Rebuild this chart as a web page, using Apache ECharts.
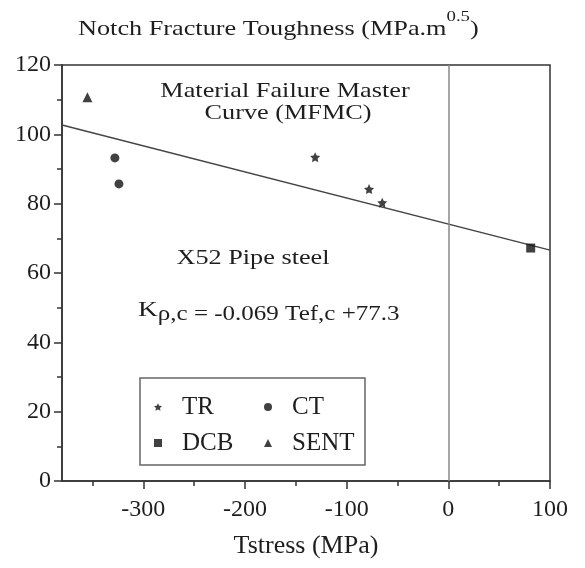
<!DOCTYPE html>
<html>
<head>
<meta charset="utf-8">
<script src="https://cdn.jsdelivr.net/npm/echarts@6/dist/echarts.min.js"></script>
<style>
  html, body { margin: 0; padding: 0; background: #fff; }
  #chart { width: 585px; height: 568px; }
</style>
</head>
<body>
<div id="chart"></div>
<script>
// Notch fracture toughness vs T-stress, X52 pipe steel
const xMin = -380, xMax = 100;
const yMin = 0, yMax = 120;
const xMajorTicks = [-300, -200, -100, 0, 100];
const xMinorTicks = [-350, -250, -150, -50, 50];

// specimen types: [Tstress (MPa), K (MPa.m^0.5)]
const trPoints   = [[-131, 93.4], [-78, 84.2], [-65, 80.3]];
const ctPoints   = [[-328, 93.2], [-324, 85.7]];
const dcbPoints  = [[81, 67.2]];
const sentPoints = [[-355, 110.7]];

// master curve endpoints across the axis range
const mfmcLine = [[-380, 102.7], [100, 66.6]];

const seriesNames = ['TR', 'CT', 'DCB', 'SENT'];

const FONT = '"Liberation Serif", "Times New Roman", serif';
const INK = '#1e1e1e';
const STAR = 'path://M0,-10 L2.94,-4.05 L9.51,-3.09 L4.76,1.55 L5.88,8.09 L0,5 L-5.88,8.09 L-4.76,1.55 L-9.51,-3.09 L-2.94,-4.05 Z';
const WIDE = 1.25; // horizontal stretch of the annotation lettering

const chart = echarts.init(document.getElementById('chart'), null, { renderer: 'canvas' });

const option = {
  animation: false,
  backgroundColor: '#fff',
  textStyle: { fontFamily: FONT },
  grid: {
    left: 62, right: 35, top: 65, bottom: 87,
    show: true, borderColor: '#333', borderWidth: 1.5, backgroundColor: 'transparent'
  },
  xAxis: [
    {
      type: 'value', min: xMin, max: xMax, position: 'bottom',
      name: 'Tstress (MPa)', nameLocation: 'middle', nameGap: 52,
      nameTextStyle: { fontFamily: FONT, fontSize: 26, color: INK },
      axisLine: { show: true, onZero: false, lineStyle: { color: '#333', width: 1.5 } },
      axisTick: { show: true, inside: false, length: 8, customValues: xMajorTicks, lineStyle: { color: '#333', width: 1.5 } },
      axisLabel: { margin: 17, customValues: xMajorTicks, fontFamily: FONT, fontSize: 24, color: INK },
      splitLine: { show: false }
    },
    {
      // half-step ticks along the bottom edge
      type: 'value', min: xMin, max: xMax, position: 'bottom',
      axisLine: { show: false, onZero: false },
      axisTick: { show: true, inside: false, length: 5, customValues: xMinorTicks, lineStyle: { color: '#333', width: 1.5 } },
      axisLabel: { show: false },
      splitLine: { show: false }
    }
  ],
  yAxis: {
    type: 'value', min: yMin, max: yMax, interval: 20,
    axisLine: { show: true, onZero: false, lineStyle: { color: '#333', width: 1.5 } },
    axisTick: { show: true, inside: false, length: 8, lineStyle: { color: '#333', width: 1.5 } },
    minorTick: { show: true, splitNumber: 2, length: 5, lineStyle: { color: '#333', width: 1.5 } },
    axisLabel: { margin: 11, fontFamily: FONT, fontSize: 24, color: INK },
    splitLine: { show: false }
  },
  legend: {
    data: seriesNames,
    orient: 'horizontal',
    left: 140, top: 378,
    width: 220,
    padding: [16, 1, 9, 14],
    itemGap: 10,
    itemWidth: 8, itemHeight: 8,
    borderColor: '#666', borderWidth: 1.5,
    backgroundColor: '#fff',
    textStyle: { fontFamily: FONT, fontSize: 25, color: INK, width: 72, padding: [0, 0, 0, 15], lineHeight: 26 },
    selectedMode: false
  },
  series: [
    {
      name: 'TR', type: 'scatter', data: trPoints,
      symbol: STAR, symbolSize: 10, itemStyle: { color: '#111' }, z: 5
    },
    {
      name: 'CT', type: 'scatter', data: ctPoints,
      symbol: 'circle', symbolSize: 9, itemStyle: { color: '#111' }, z: 5
    },
    {
      name: 'DCB', type: 'scatter', data: dcbPoints,
      symbol: 'rect', symbolSize: 9, itemStyle: { color: '#111' }, z: 5
    },
    {
      name: 'SENT', type: 'scatter', data: sentPoints,
      symbol: 'triangle', symbolSize: 10, itemStyle: { color: '#111' }, z: 5
    },
    {
      name: 'MFMC', type: 'line', data: mfmcLine,
      symbol: 'none', lineStyle: { color: '#444', width: 1.5 }, silent: true, z: 3,
      markLine: {
        silent: true, symbol: 'none', label: { show: false },
        lineStyle: { color: '#888', width: 1.5, type: 'solid' },
        data: [{ xAxis: 0 }]
      }
    }
  ],
  graphic: [
    {
      type: 'text', x: 78, y: 25, scaleX: WIDE,
      style: {
        text: '{m|Notch Fracture Toughness (MPa.m}{s|0.5}{m|)}',
        verticalAlign: 'middle',
        rich: {
          m: { fontFamily: FONT, fontSize: 21, lineHeight: 30, verticalAlign: 'bottom', fill: INK },
          s: { fontFamily: FONT, fontSize: 15, lineHeight: 8, verticalAlign: 'top', fill: INK }
        }
      }
    },
    {
      type: 'text', x: 285, y: 91, scaleX: WIDE,
      style: { text: 'Material Failure Master', font: '21px ' + FONT, fill: INK, align: 'center', verticalAlign: 'middle' }
    },
    {
      type: 'text', x: 288, y: 113, scaleX: WIDE,
      style: { text: 'Curve (MFMC)', font: '21px ' + FONT, fill: INK, align: 'center', verticalAlign: 'middle' }
    },
    {
      type: 'text', x: 253, y: 258, scaleX: WIDE,
      style: { text: 'X52 Pipe steel', font: '21px ' + FONT, fill: INK, align: 'center', verticalAlign: 'middle' }
    },
    {
      type: 'text', x: 138, y: 312, scaleX: WIDE,
      style: {
        text: '{k|K}{r|ρ,c = -0.069 Tef,c +77.3}',
        verticalAlign: 'middle',
        rich: {
          k: { fontFamily: FONT, fontSize: 22, lineHeight: 14, verticalAlign: 'top', fill: INK },
          r: { fontFamily: FONT, fontSize: 20, lineHeight: 26, verticalAlign: 'bottom', fill: INK }
        }
      }
    }
  ]
};

chart.setOption(option);
</script>
</body>
</html>
